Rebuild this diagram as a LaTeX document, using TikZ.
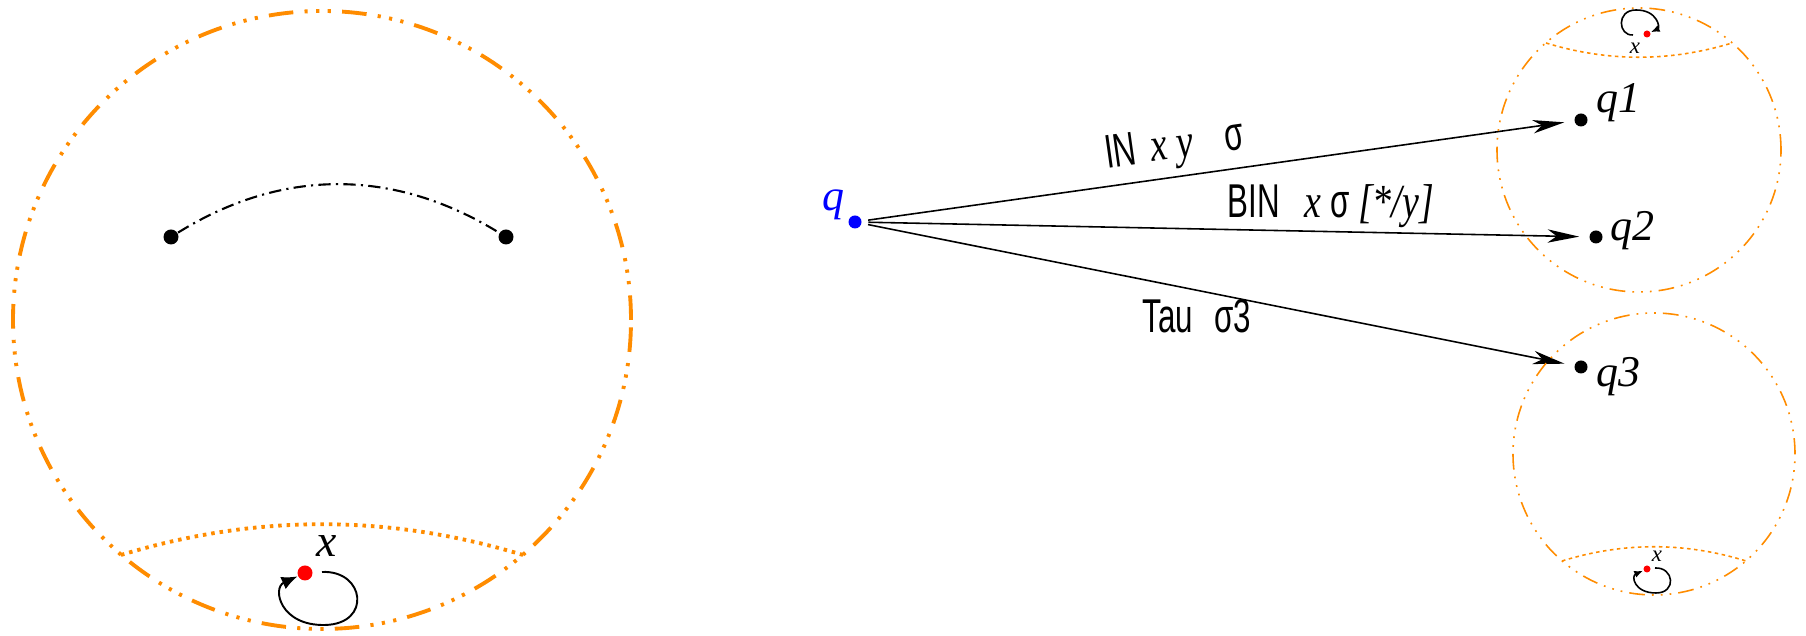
\documentclass[tikz,border=0pt]{standalone}
\usepackage{fontspec}
\setmainfont{Liberation Serif}
\newfontfamily\narrowsf[FakeStretch=0.66]{Liberation Sans}
\newfontfamily\narrowrm[FakeStretch=0.8]{Liberation Serif}
\usetikzlibrary{arrows.meta}
\definecolor{ringorange}{RGB}{255,140,0}
\newcommand{\vname}[1]{{\narrowrm\itshape #1}}

\begin{document}
\begin{tikzpicture}[line width=0.45pt,>={Stealth[length=9pt,width=3.8pt,inset=2.6pt]},
  statedot/.style={circle,fill,inner sep=0pt,minimum size=#1},
  bigring/.style={ringorange,line width=1.1pt,dash pattern=on 7pt off 3.2pt on 0.9pt off 2.4pt on 0.9pt off 2.4pt on 0.9pt off 3.2pt},
  smallring/.style={ringorange,line width=0.45pt,dash pattern=on 4.5pt off 2pt on 0.5pt off 2pt on 0.5pt off 2pt on 0.5pt off 2pt},
  bigcut/.style={ringorange,line width=1.1pt,dash pattern=on 1pt off 1.4pt},
  smallcut/.style={ringorange,line width=0.45pt,dash pattern=on 1pt off 1pt},
  lab/.style={font=\narrowsf\fontsize{13.5}{15}\selectfont,inner sep=1pt},
  qlab/.style={font=\itshape\fontsize{12.5}{14}\selectfont,inner sep=0pt}]
  \useasboundingbox (0,0) rectangle (18.06,6.36);
  % large sphere
  \draw[bigring] (3.22,3.16) circle (3.09);
  \node[statedot=0.15cm] (a) at (1.71,3.99) {};
  \node[statedot=0.15cm] (b) at (5.06,3.99) {};
  \draw[line width=0.6pt,dash pattern=on 3.5pt off 1.5pt on 0.6pt off 1.5pt] (a) .. controls (2.82,4.68) and (3.94,4.68) .. (b);
  \draw[bigcut] (1.21,0.81) .. controls (2.55,1.22) and (3.89,1.22) .. (5.23,0.81);
  \node[statedot=0.15cm,red] (xdot) at (3.05,0.63) {};
  \node[font=\itshape\fontsize{13}{15}\selectfont] (xname) at (3.27,0.90) {x};
  \coordinate (xstart) at (3.22,0.64);
  \draw[-{Latex[length=4.5pt,width=3.8pt]},line width=0.55pt] (xstart) .. controls (3.65,0.66) and (3.72,0.12) .. (3.25,0.11) .. controls (2.80,0.10) and (2.72,0.48) .. (xdot);
  % transitions
  \node[statedot=0.13cm,blue] (q) at (8.55,4.14) {};
  \node[qlab,blue] (qname) at (8.33,4.31) {q};
  \node[statedot=0.13cm] (q1) at (15.81,5.16) {};
  \node[qlab,anchor=west] (q1name) at (15.96,5.33) {q1};
  \node[statedot=0.13cm] (q2) at (15.96,3.99) {};
  \node[qlab,anchor=west] (q2name) at (16.10,4.05) {q2};
  \node[statedot=0.13cm] (q3) at (15.81,2.69) {};
  \node[qlab,anchor=west] (q3name) at (15.96,2.59) {q3};
  \draw[->,shorten <=1.7pt,shorten >=2.7pt] (q) -- node[lab,above=1pt,sloped,pos=0.445] {IN\hspace{4pt}\vname{x y}\hspace{9pt}σ} (q1);
  \draw[->,shorten <=1.7pt,shorten >=2.7pt] (q) -- node[lab,above=0pt,pos=0.645] {BIN\hspace{7pt}\vname{x} σ \vname{[*/y]}} (q2);
  \draw[->,shorten <=1.7pt,shorten >=2.7pt] (q) -- node[lab,below=1.5pt,pos=0.47] {Tau\hspace{6pt}σ3} (q3);
  % small spheres
  \draw[smallring] (16.39,4.86) circle (1.42);
  \draw[smallcut] (15.46,5.93) .. controls (16.08,5.74) and (16.70,5.74) .. (17.32,5.93);
  \node[statedot=0.07cm,red] (tdot) at (16.47,6.02) {};
  \node[font=\itshape\fontsize{6.5}{8}\selectfont] (tname) at (16.35,5.88) {x};
  \coordinate (tstart) at (16.33,6.01);
  \draw[-{Latex[length=2.5pt,width=2pt]}] (tstart) .. controls (16.18,6.00) and (16.16,6.26) .. (16.36,6.26) .. controls (16.58,6.26) and (16.60,6.08) .. (tdot);
  \draw[smallring] (16.54,1.82) circle (1.41);
  \draw[smallcut] (15.62,0.75) .. controls (16.23,0.94) and (16.85,0.94) .. (17.46,0.75);
  \node[statedot=0.07cm,red] (bdot) at (16.47,0.67) {};
  \node[font=\itshape\fontsize{6.5}{8}\selectfont] (bname) at (16.57,0.80) {x};
  \coordinate (bstart) at (16.55,0.68);
  \draw[-{Latex[length=2.5pt,width=2pt]}] (bstart) .. controls (16.74,0.69) and (16.77,0.43) .. (16.56,0.43) .. controls (16.34,0.43) and (16.31,0.60) .. (bdot);
\end{tikzpicture}
\end{document}
